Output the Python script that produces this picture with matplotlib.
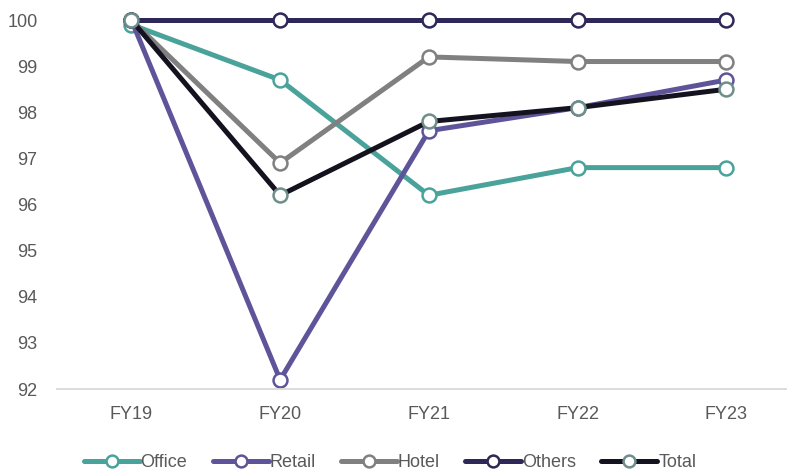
import matplotlib.pyplot as plt

plt.rcParams['font.family'] = ['Liberation Sans', 'DejaVu Sans']

years = ["FY19", "FY20", "FY21", "FY22", "FY23"]
office = [99.9, 98.7, 96.2, 96.8, 96.8]
retail = [100.0, 92.2, 97.6, 98.1, 98.7]
hotel = [100.0, 96.9, 99.2, 99.1, 99.1]
others = [100.0, 100.0, 100.0, 100.0, 100.0]
total = [100.0, 96.2, 97.8, 98.1, 98.5]

series = [
    ("Office", office, "#4AA39A", "#4AA39A"),
    ("Retail", retail, "#5E5499", "#5E5499"),
    ("Hotel", hotel, "#808080", "#808080"),
    ("Others", others, "#2E2858", "#2E2858"),
    ("Total", total, "#15121F", "#6E8E89"),
]

fig = plt.figure(figsize=(7.87, 4.72), dpi=100)
ax = fig.add_axes([0.0724, 0.1758, 0.9263, 0.7818])

x = range(len(years))
for name, vals, col, edge in series:
    ax.plot(x, vals, color=col, lw=3.6, marker="o", markersize=10,
            markerfacecolor="white", markeredgecolor=edge, markeredgewidth=1.8,
            label=name, clip_on=False, solid_capstyle="round")

ax.set_xlim(-0.5, 4.4)
ax.set_ylim(92, 100)
ax.set_yticks(range(92, 101))
ax.set_xticks(list(x))
ax.set_xticklabels(years)
for s in ["top", "right", "left"]:
    ax.spines[s].set_visible(False)
ax.spines["bottom"].set_color("#D9D9D9")
ax.spines["bottom"].set_linewidth(1.3)
ax.tick_params(axis="both", length=0, labelsize=13, labelcolor="#595959")
ax.tick_params(axis="x", pad=12)
ax.tick_params(axis="y", pad=14)

fig.legend(loc="lower center", bbox_to_anchor=(0.4956, -0.032), ncol=5, frameon=False,
           fontsize=13, labelcolor="#595959", handlelength=3.1, handletextpad=0.05,
           columnspacing=1.4, markerscale=0.85)

fig.savefig("out.png", dpi=100)
